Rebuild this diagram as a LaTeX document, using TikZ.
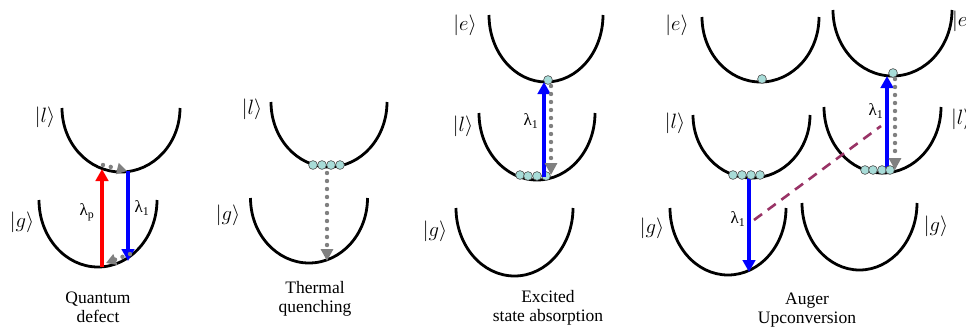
\documentclass[tikz,border=0pt]{standalone}
\usepackage{fontspec}
\setmainfont{Liberation Serif}
\newfontfamily\serifcap{Liberation Serif}
\usetikzlibrary{arrows.meta}
\definecolor{ballc}{HTML}{A8DCD8}
\definecolor{augerc}{HTML}{993366}
\definecolor{relaxc}{HTML}{808080}
\tikzset{
  wellline/.style={line width=2.8pt, black},
  pump/.style={line width=4.4pt, -{Triangle[length=12pt,width=12.5pt]}},
  relax/.style={relaxc, line width=4.4pt, line cap=round, dash pattern=on 0pt off 8pt, -{Triangle[length=12pt,width=12pt]}},
  relaxs/.style={relaxc, line width=4.4pt, line cap=round, dash pattern=on 0pt off 8pt, -{Triangle[length=10pt,width=11pt]}},
  ball/.style={circle, fill=ballc, draw=black!70, line width=0.6pt, minimum size=8.8pt, inner sep=0pt},
  ket/.style={font=\fontsize{21}{21}\selectfont, inner sep=0pt},
  lam/.style={font=\serifcap\fontsize{17}{17}\selectfont, inner sep=0pt},
  caption/.style={font=\serifcap\fontsize{17.5}{19.5}\selectfont, align=center, inner sep=0pt},
  augerline/.style={augerc, line width=2.6pt, dash pattern=on 10pt off 7pt},
}
% half-ellipse well: centre x, top y, x radius, depth
\newcommand\wellU[4]{%
  \draw[wellline] (#1-#3,#2) .. controls (#1-#3,#2+0.5523*#4) and (#1-0.5523*#3,#2+#4) .. (#1,#2+#4)
    .. controls (#1+0.5523*#3,#2+#4) and (#1+#3,#2+0.5523*#4) .. (#1+#3,#2);}
\begin{document}
\begin{tikzpicture}[x=1pt,y=-1pt]
\useasboundingbox (0,0) rectangle (966,327);
\fill[white] (0,0) rectangle (966,327);

% ---------- Panel 1: Quantum defect ----------
\wellU{121}{108}{59}{64}
\wellU{98}{200}{59}{67}
\node[ket] (k1l) at (45,117) {$|l\rangle$};
\node[ket] (k1g) at (22,222) {$|g\rangle$};
\coordinate (p1a) at (102,267);
\coordinate (p1b) at (102,169);
\coordinate (e1a) at (128,171);
\coordinate (e1b) at (128,261);
\draw[pump, red] (p1a) -- (p1b);
\draw[pump, blue] (e1a) -- (e1b);
\coordinate (r1a) at (103,165);
\coordinate (r1b) at (127,171);
\coordinate (r1c) at (130,254);
\coordinate (r1d) at (106,263);
\draw[relaxs] (r1a) -- (r1b);
\draw[relaxs] (r1c) -- (r1d);
\node[lam] (lp) at (87,212) {λ\textsubscript{p}};
\node[lam] (l1a) at (142,208) {λ\textsubscript{1}};
\node[caption] (c1) at (98,307.5) {Quantum\\defect};

% ---------- Panel 2: Thermal quenching ----------
\wellU{329}{102}{58}{65}
\wellU{309}{198}{58.5}{65}
\node[ket] (k2l) at (252,109) {$|l\rangle$};
\node[ket] (k2g) at (228,215) {$|g\rangle$};
\coordinate (r2a) at (327,173);
\coordinate (r2b) at (327,261);
\draw[relax] (r2a) -- (r2b);
\node[ball] (b21) at (313,165) {};
\node[ball] (b22) at (322,165) {};
\node[ball] (b23) at (331,165) {};
\node[ball] (b24) at (340,165) {};
\node[caption] (c2) at (315,299) {Thermal\\quenching};

% ---------- Panel 3: Excited state absorption ----------
\wellU{546}{15}{57}{67}
\wellU{537}{113}{58}{67}
\wellU{514.5}{208}{58.5}{68}
\node[ket] (k3e) at (465,25) {$|e\rangle$};
\node[ket] (k3l) at (463,126) {$|l\rangle$};
\node[ket] (k3g) at (435,231) {$|g\rangle$};
\node[ball] (b3t) at (548,80) {};
\node[ball] (b31) at (520,175) {};
\node[ball] (b32) at (528,176) {};
\node[ball] (b33) at (537,176) {};
\node[ball] (b34) at (546,176) {};
\coordinate (e3a) at (544,177);
\coordinate (e3b) at (544,82);
\draw[pump, blue] (e3a) -- (e3b);
\coordinate (r3a) at (551,86);
\coordinate (r3b) at (551,175);
\draw[relax] (r3a) -- (r3b);
\node[lam] (l3) at (531,121) {λ\textsubscript{1}};
\node[caption] (c3) at (548,308) {Excited\\state absorption};

% ---------- Panel 4: Auger upconversion ----------
% left ion
\wellU{760.5}{17}{58.5}{65}
\wellU{751.5}{115}{58.5}{63}
\wellU{728}{208}{58}{67}
\node[ket] (k4e) at (677,25) {$|e\rangle$};
\node[ket] (k4l) at (675,123) {$|l\rangle$};
\node[ket] (k4g) at (652,228) {$|g\rangle$};
\node[ball] (b4t) at (762,79) {};
\coordinate (e4a) at (749,178);
\coordinate (e4b) at (749,272);
\draw[pump, blue] (e4a) -- (e4b);
\node[ball] (b41) at (733,175) {};
\node[ball] (b42) at (742,175) {};
\node[ball] (b43) at (751,175) {};
\node[ball] (b44) at (760,175) {};
\node[lam] (l4a) at (738,219) {λ\textsubscript{1}};
% right ion
\wellU{892.5}{10}{59.5}{66}
\wellU{882.5}{107}{58.5}{66}
\wellU{859.5}{203}{57.5}{67}
\node[ket, anchor=west] (k5e) at (952,21) {$|e\rangle$};
\node[ket, anchor=west] (k5l) at (951,119) {$|l\rangle$};
\node[ket] (k5g) at (936,226) {$|g\rangle$};
\node[ball] (b5t) at (893,73) {};
\coordinate (e5a) at (887,172);
\coordinate (e5b) at (887,76);
\draw[pump, blue] (e5a) -- (e5b);
\coordinate (r5a) at (895,79);
\coordinate (r5b) at (895,170);
\draw[relax] (r5a) -- (r5b);
\node[ball] (b51) at (865,170) {};
\node[ball] (b52) at (873,170) {};
\node[ball] (b53) at (882,170) {};
\node[ball] (b54) at (890,170) {};
\node[lam] (l5) at (876,111) {λ\textsubscript{1}};
\coordinate (a1) at (754,220);
\coordinate (a2) at (881,126);
\draw[augerline] (a1) -- (a2);
\node[caption] (c4) at (807,310) {Auger\\Upconversion};
\end{tikzpicture}
\end{document}
